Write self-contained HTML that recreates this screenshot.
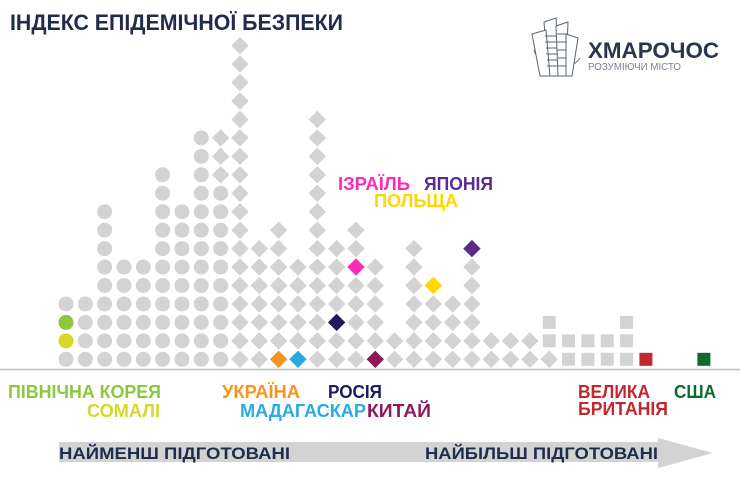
<!DOCTYPE html>
<html><head><meta charset="utf-8"><style>
html,body{margin:0;padding:0;background:#fff;}
svg{display:block;}
text{font-family:"Liberation Sans","DejaVu Sans",sans-serif;font-weight:bold;}
</style></head><body>
<svg id="s" width="740" height="492" viewBox="0 0 740 492" xmlns="http://www.w3.org/2000/svg">
<text x="10" y="30" font-size="22" fill="#1f2d4a" textLength="333" lengthAdjust="spacingAndGlyphs">ІНДЕКС ЕПІДЕМІЧНОЇ БЕЗПЕКИ</text>
<!-- logo -->
<g stroke="#5a6478" fill="none" stroke-width="1">
<path d="M534 50 A26 26 0 0 0 580 58"/>
<polygon points="544,22 556,18 560,76 548,76" fill="#fff"/>
<polygon points="532,34 546,30 550,76 540,76" fill="#fff"/>
<polygon points="556,26 568,22 566,76 558,76" fill="#fff"/>
<polygon points="566,34 578,38 572,76 566,76" fill="#fff"/>
<path d="M545 36 H556 M545 42 H557 M546 48 H557 M546 54 H558 M547 60 H558 M547 66 H559 M557 34 H567 M557 42 H567 M557 50 H566 M558 58 H566 M558 66 H566"/>
</g>
<text x="588" y="58" font-size="22" fill="#2a3550" textLength="131" lengthAdjust="spacingAndGlyphs">ХМАРОЧОС</text>
<text x="588" y="70" font-size="10" font-weight="normal" style="font-weight:normal" fill="#7a8090" textLength="93" lengthAdjust="spacingAndGlyphs">РОЗУМІЮЧИ МІСТО</text>
<g id="g"></g>
<line x1="0" y1="369.5" x2="740" y2="369.5" stroke="#bdbdbd" stroke-width="1.5"/>
<!-- labels -->
<g font-size="18">
<text x="8" y="398" fill="#8dc63f" textLength="153" lengthAdjust="spacingAndGlyphs">ПІВНІЧНА КОРЕЯ</text>
<text x="87" y="417" fill="#d4d829" textLength="73" lengthAdjust="spacingAndGlyphs">СОМАЛІ</text>
<text x="222" y="398" fill="#f7941d" textLength="78" lengthAdjust="spacingAndGlyphs">УКРАЇНА</text>
<text x="328" y="398" fill="#1f1a5a" textLength="54" lengthAdjust="spacingAndGlyphs">РОСІЯ</text>
<text x="240" y="417" fill="#29abe2" textLength="126" lengthAdjust="spacingAndGlyphs">МАДАГАСКАР</text>
<text x="367" y="417" fill="#8e1a5a" textLength="64" lengthAdjust="spacingAndGlyphs">КИТАЙ</text>
<text x="578" y="398" fill="#c1272d" textLength="72" lengthAdjust="spacingAndGlyphs">ВЕЛИКА</text>
<text x="578" y="415" fill="#c1272d" textLength="90" lengthAdjust="spacingAndGlyphs">БРИТАНІЯ</text>
<text x="674" y="398" fill="#0b6b2e" textLength="42" lengthAdjust="spacingAndGlyphs">США</text>
<text x="338" y="190" fill="#ff2bb8" textLength="72" lengthAdjust="spacingAndGlyphs">ІЗРАЇЛЬ</text>
<text x="424" y="190" fill="#5b2b8c" textLength="69" lengthAdjust="spacingAndGlyphs">ЯПОНІЯ</text>
<text x="374" y="207" fill="#ffd700" textLength="84" lengthAdjust="spacingAndGlyphs">ПОЛЬЩА</text>
</g>
<!-- arrow -->
<rect x="59" y="442" width="600" height="20" fill="#d3d3d3"/>
<polygon points="658,438 713,453 658,468" fill="#d3d3d3"/>
<g font-size="17" fill="#1f2d4a">
<text x="59" y="459" textLength="231" lengthAdjust="spacingAndGlyphs">НАЙМЕНШ ПІДГОТОВАНІ</text>
<text x="425" y="459" textLength="233" lengthAdjust="spacingAndGlyphs">НАЙБІЛЬШ ПІДГОТОВАНІ</text>
</g>
</svg>
<script>
var G='#d3d3d3';
var cols=[
['c',4,{1:'#d4d829',2:'#8dc63f'}],['c',4],['c',9],['c',6],['c',6],['c',11],['c',9],['c',13],
['m',13],['d',18],['d',7],['d',8,{0:'#f7941d'}],['d',6,{0:'#29abe2'}],['d',14],['d',7,{2:'#1f1a5a'}],
['d',8,{5:'#ff2bb8'}],['d',6,{0:'#8e1a5a'}],['d',2],['d',7],['d',5,{4:'#ffd700'}],['d',4],['d',7,{6:'#5b2b8c'}],
['d',2],['d',2],['d',2],['ds',3],['s',2],['s',2],['s',2],['s',3],['s',1,{0:'#c1272d'}],null,null,['s',1,{0:'#0b6b2e'}]];
var out='';
cols.forEach(function(c,i){
 if(!c)return;
 var x=66+i*19.33;
 for(var k=0;k<c[1];k++){
  var y=359.3-18.45*k;
  var col=(c[2]&&c[2][k])||G;
  var t=c[0];
  if(t==='m')t=k<10?'c':'d';
  if(t==='ds')t=k<1?'d':'s';
  if(t==='c')out+='<circle cx="'+x+'" cy="'+y+'" r="7.5" fill="'+col+'"/>';
  else if(t==='d')out+='<polygon points="'+x+','+(y-8.7)+' '+(x+8.7)+','+y+' '+x+','+(y+8.7)+' '+(x-8.7)+','+y+'" fill="'+col+'"/>';
  else out+='<rect x="'+(x-6.5)+'" y="'+(y-6.5)+'" width="13" height="13" fill="'+col+'"/>';
 }
});
document.getElementById('g').innerHTML=out;
</script>
</body></html>
